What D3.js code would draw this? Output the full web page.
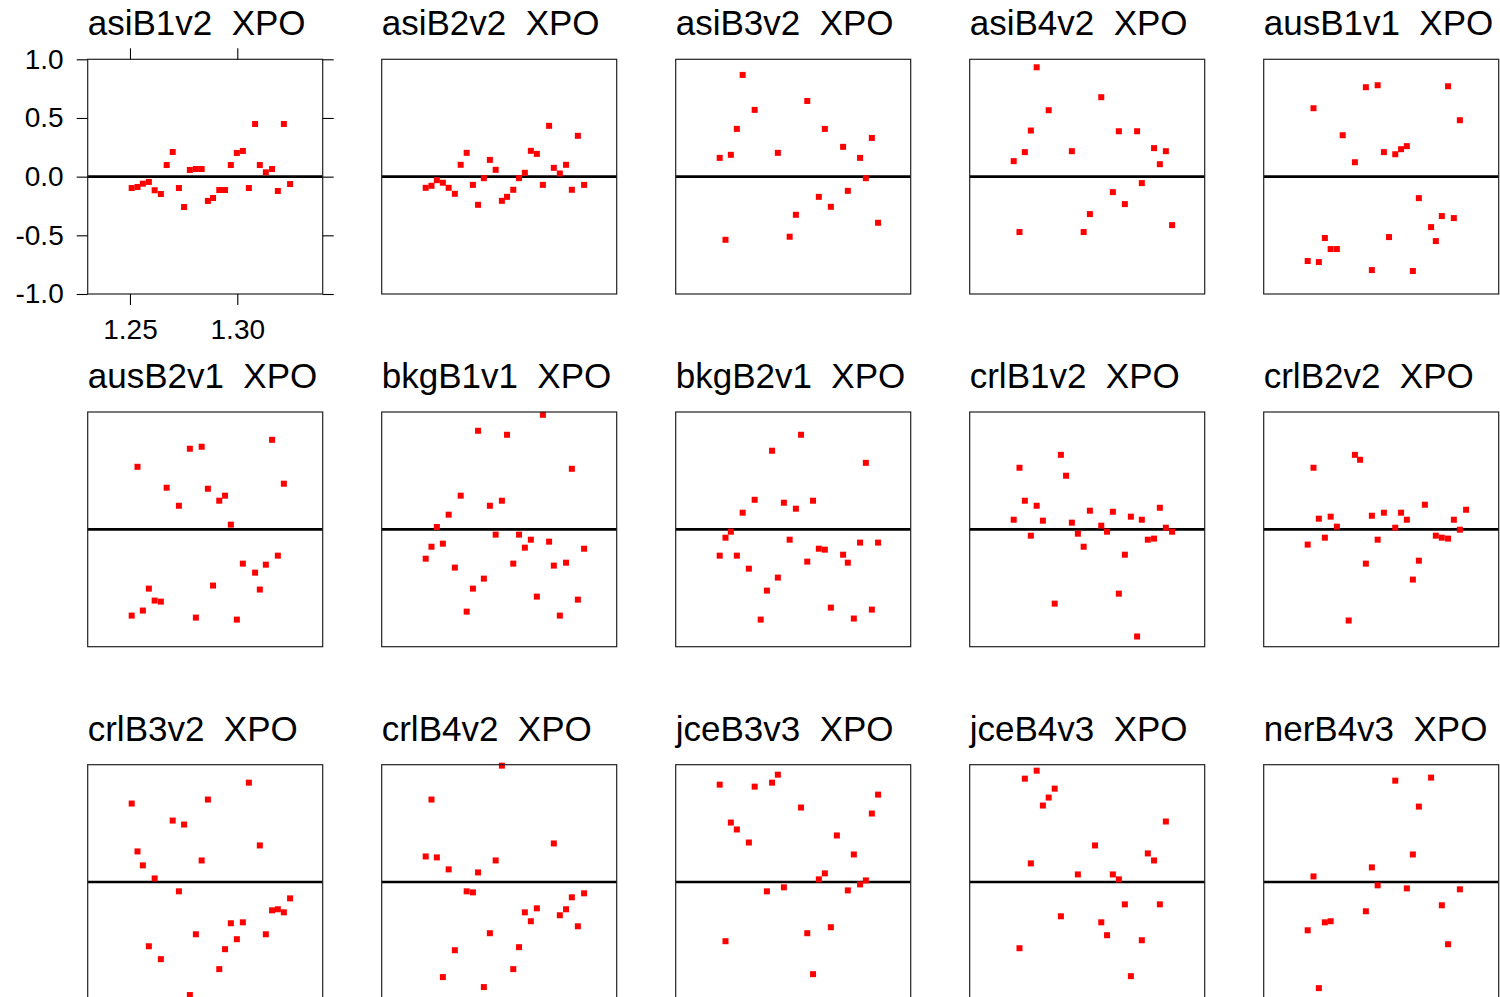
<!DOCTYPE html>
<html>
<head>
<meta charset="utf-8">
<script src="https://cdn.jsdelivr.net/npm/d3@7"></script>
<style>
  body { margin: 0; background: #fff; }
  svg { display: block; font-family: "Liberation Sans", Arial, sans-serif; }
  .title { font-size: 35px; white-space: pre; }
  .axis text { font-size: 28px; fill: #000; font-family: "Liberation Sans", Arial, sans-serif; }
  .axis line { stroke: #000; stroke-width: 1.1; }
</style>
</head>
<body>
<svg id="chart" width="1500" height="997"></svg>
<script>
// shared XPO grid (28 positions)
var xpo = [1.2508, 1.2535, 1.2560, 1.2588, 1.2615, 1.2644, 1.2671, 1.2699, 1.2728, 1.2752,
           1.2779, 1.2807, 1.2834, 1.2863, 1.2887, 1.2916, 1.2943, 1.2970, 1.2998, 1.3026,
           1.3054, 1.3083, 1.3105, 1.3133, 1.3162, 1.3189, 1.3217, 1.3246];

var stations = ['asiB1v2', 'asiB2v2', 'asiB3v2', 'asiB4v2', 'ausB1v1',
                'ausB2v1', 'bkgB1v1', 'bkgB2v1', 'crlB1v2', 'crlB2v2',
                'crlB3v2', 'crlB4v2', 'jceB3v3', 'jceB4v3', 'nerB4v3'];

var asiB1v2 = [-0.097,-0.088,-0.060,-0.045,-0.116,-0.148,0.099,0.210,-0.097,-0.259,0.057,0.065,0.065,-0.207,-0.182,-0.114,-0.114,0.099,0.202,0.219,-0.097,0.449,0.099,0.037,0.065,-0.122,0.449,-0.063];
var asiB2v2 = [-0.095,-0.078,-0.030,-0.052,-0.095,-0.146,0.101,0.203,-0.070,-0.240,-0.013,0.143,0.058,-0.206,-0.172,-0.112,-0.013,0.033,0.220,0.194,-0.070,0.433,0.075,0.027,0.101,-0.112,0.348,-0.070];
var asiB3v2 = [0.160,-0.538,0.186,0.407,0.867,null,0.569,null,null,null,0.203,null,-0.512,-0.325,null,0.645,null,-0.172,0.407,-0.257,null,0.254,-0.121,null,0.160,-0.013,0.330,-0.393];
var asiB4v2 = [0.132,-0.472,0.209,0.393,0.932,null,0.566,null,null,null,0.217,null,-0.472,-0.319,null,0.677,null,-0.132,0.387,-0.234,null,0.387,-0.055,null,0.243,0.106,0.217,-0.413];
var ausB1v1 = [-0.719,0.583,-0.728,-0.523,-0.617,-0.617,0.353,null,0.123,null,0.762,-0.796,0.779,0.209,-0.515,0.191,0.234,0.260,-0.804,-0.183,null,-0.430,-0.549,-0.336,0.770,-0.353,0.481,null];
var ausB2v1 = [-0.735,0.533,-0.692,-0.505,-0.607,-0.616,0.355,null,0.201,null,0.687,-0.752,0.704,0.346,-0.479,0.244,0.287,0.040,-0.769,-0.292,null,-0.369,-0.513,-0.301,0.763,-0.224,0.389,null];
var bkgB1v1 = [-0.250,-0.148,0.020,-0.122,0.125,-0.326,0.287,-0.701,-0.505,0.840,-0.420,0.201,-0.045,0.244,0.806,-0.292,-0.045,-0.156,-0.088,-0.573,0.976,-0.105,-0.309,-0.735,-0.284,0.516,-0.599,-0.165];
var bkgB2v1 = [-0.224,-0.071,-0.020,-0.224,0.142,-0.335,0.252,-0.769,-0.522,0.670,-0.411,0.227,-0.088,0.176,0.806,-0.275,0.244,-0.165,-0.173,-0.667,null,-0.216,-0.284,-0.760,-0.113,0.567,-0.684,-0.113];
var crlB1v2 = [0.082,0.525,0.244,-0.054,0.201,0.074,null,-0.633,0.635,0.457,0.057,-0.037,-0.148,0.159,null,0.031,-0.020,0.150,-0.548,-0.216,0.108,-0.913,0.082,-0.088,-0.079,0.184,0.014,-0.020];
var crlB2v2 = [-0.130,0.525,0.091,-0.071,0.108,0.023,null,-0.777,0.635,0.593,-0.292,0.116,-0.088,0.142,null,0.014,0.142,0.082,-0.428,-0.267,0.210,null,-0.054,-0.071,-0.079,0.082,-0.003,0.167];
var crlB3v2 = [0.669,0.261,0.142,-0.547,0.031,-0.657,null,0.524,-0.079,0.490,-0.963,-0.445,0.184,0.703,null,-0.742,-0.572,-0.351,-0.487,-0.343,0.847,null,0.312,-0.445,-0.241,-0.232,-0.258,-0.139];
var crlB4v2 = [0.218,0.703,0.210,-0.810,0.108,-0.581,null,-0.079,-0.088,0.082,-0.895,-0.436,0.184,0.992,null,-0.742,-0.555,-0.258,-0.334,-0.224,null,null,0.329,-0.283,-0.232,-0.130,-0.377,-0.096];
var jceB3v3 = [0.830,-0.504,0.507,0.448,null,0.337,0.813,null,-0.079,0.847,0.915,-0.045,null,null,0.635,-0.436,-0.785,0.023,0.074,-0.385,0.397,null,-0.071,0.235,-0.020,0.014,0.584,0.745];
var jceB4v3 = [null,-0.564,0.881,0.159,0.949,0.652,0.720,0.796,-0.292,null,null,0.065,null,null,0.312,-0.343,-0.453,0.065,0.023,-0.190,-0.802,null,-0.496,0.244,0.184,-0.190,0.516,null];
var nerB4v3 = [-0.411,0.048,-0.904,-0.343,-0.334,null,null,null,null,null,-0.249,0.125,-0.028,null,null,0.864,null,-0.054,0.235,0.643,null,0.890,null,-0.198,-0.530,null,-0.062,null];

var series = [asiB1v2, asiB2v2, asiB3v2, asiB4v2, ausB1v1,
              ausB2v1, bkgB1v1, bkgB2v1, crlB1v2, crlB2v2,
              crlB3v2, crlB4v2, jceB3v3, jceB4v3, nerB4v3];

var yTicks = [-1, -0.5, 0, 0.5, 1];
var xTicks = [1.25, 1.30];

var svg = d3.select('#chart');
var W = 235, H = 234.7;
var x = d3.scaleLinear().domain([1.2303, 1.3398]).range([0, W]);
var y = d3.scaleLinear().domain([-1, 1]).range([H, 0]);

stations.forEach(function (name, i) {
  var col = i % 5, row = Math.floor(i / 5);
  var g = svg.append('g')
    .attr('transform', 'translate(' + (87.7 + 294 * col) + ',' + (59.3 + 352.7 * row) + ')');

  g.append('text')
    .attr('class', 'title')
    .attr('x', 0)
    .attr('y', -24)
    .text(name + '  XPO');

  var pts = xpo.map(function (xv, k) { return { x: xv, y: series[i][k] }; })
    .filter(function (d) { return d.y !== null; });

  g.append('line')
    .attr('x1', 0).attr('x2', W)
    .attr('y1', y(0)).attr('y2', y(0))
    .attr('stroke', '#000').attr('stroke-width', 2.6);

  g.selectAll('rect.pt')
    .data(pts)
    .enter()
    .append('rect')
    .attr('class', 'pt')
    .attr('x', function (d) { return x(d.x) - 3; })
    .attr('y', function (d) { return y(d.y) - 3; })
    .attr('width', 6).attr('height', 6)
    .attr('fill', '#ff0000');

  g.append('rect')
    .attr('x', 0).attr('y', 0)
    .attr('width', W).attr('height', H)
    .attr('fill', 'none')
    .attr('stroke', '#222').attr('stroke-width', 1.2);

  // only the first panel carries axes (R style, ticks on all four sides)
  if (i === 0) {
    var left = g.append('g').attr('class', 'axis')
      .call(d3.axisLeft(y).tickValues(yTicks).tickSize(11).tickPadding(13)
        .tickFormat(function (d) { return d.toFixed(1); }));
    var right = g.append('g').attr('class', 'axis').attr('transform', 'translate(' + W + ',0)')
      .call(d3.axisRight(y).tickValues(yTicks).tickSize(11).tickFormat(''));
    var bottom = g.append('g').attr('class', 'axis').attr('transform', 'translate(0,' + H + ')')
      .call(d3.axisBottom(x).tickValues(xTicks).tickSize(11).tickPadding(14)
        .tickFormat(function (d) { return d.toFixed(2); }));
    var top = g.append('g').attr('class', 'axis')
      .call(d3.axisTop(x).tickValues(xTicks).tickSize(11).tickFormat(''));
    [left, right, bottom, top].forEach(function (a) { a.select('.domain').remove(); });
  }
});
</script>
</body>
</html>
